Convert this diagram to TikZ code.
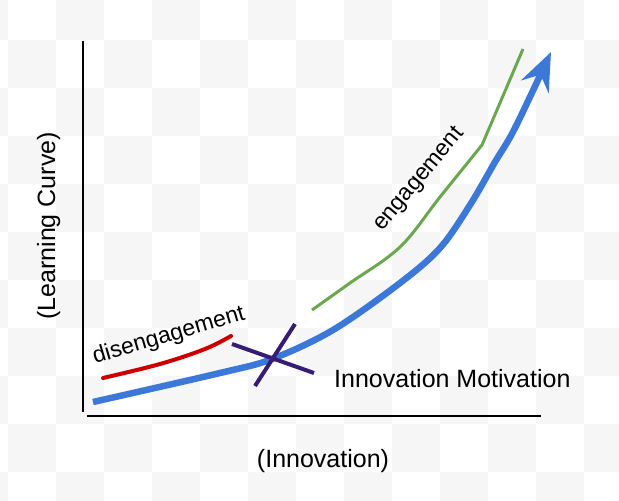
\documentclass[tikz,border=0pt]{standalone}
\usepackage{fontspec}
\setmainfont{Liberation Sans}
\usepackage{xcolor}
\usepackage{tikz}
\usetikzlibrary{arrows.meta}

\definecolor{learnblue}{HTML}{3C78D8}
\definecolor{enggreen}{HTML}{6AA84F}
\definecolor{disred}{HTML}{CC0000}
\definecolor{crosspurple}{HTML}{351C75}
\definecolor{checkgray}{HTML}{F6F6F6}

\begin{document}
\begin{tikzpicture}[
  x=1pt, y=-1pt,
  axis/.style={draw=black, line width=2pt},
  growth/.style={draw=learnblue, line width=6.5pt},
  engline/.style={draw=enggreen, line width=3pt},
  disline/.style={draw=disred, line width=4pt},
  cross/.style={draw=crosspurple, line width=4pt},
  biglabel/.style={font=\fontsize{25}{30}\selectfont, inner sep=0pt},
  slantlabel/.style={font=\fontsize{23}{27}\selectfont, inner sep=0pt}
]
  \useasboundingbox (0,0) rectangle (619,501);

  % Checkerboard background
  \begin{scope}
    \clip (0,0) rectangle (619,501);
    \fill[white] (0,0) rectangle (619,501);
    \foreach \i in {-1,...,12} {
      \foreach \j in {0,...,10} {
        \pgfmathtruncatemacro{\cellodd}{mod(\i+\j+2,2)}
        \ifnum\cellodd=1
          \fill[checkgray] ({7.5+48*\i},{-8.5+48*\j}) rectangle ++(48,48);
        \fi
      }
    }
  \end{scope}

  % Axes
  \draw[axis] (83.3,40.7) -- (83.3,412);
  \draw[axis] (87.3,415.7) -- (541,415.7);

  % Axis labels
  \node[biglabel, anchor=base, rotate=90] (ylabel) at (55,226) {(Learning Curve)};
  \node[biglabel, anchor=base] (xlabel) at (323,467) {(Innovation)};

  % Curves
  \draw[disline, line cap=round] plot[smooth, tension=0.6] coordinates {(103,378) (160,364) (205,349) (231,336)};
  \draw[engline] plot[smooth, tension=0.6] coordinates {(312,310) (350,283) (400,247) (440,197) (482,145)} -- (523,49);
  \draw[growth, -{Stealth[length=38pt, width=30pt, inset=13pt]}]
    plot[smooth, tension=0.55] coordinates {(93,402) (220,373) (272,359) (333,330) (400,283) (440,248) (470,205) (495,162) (515,128) (551,52)};

  % Crossing mark
  \draw[cross] (232,344) -- (314,373);
  \draw[cross] (295,324) -- (255,386);

  % Labels
  \node[slantlabel, anchor=base west, rotate=16.5] (diseng) at (95,364) {disengagement};
  \node[slantlabel, anchor=base west, rotate=50] (eng) at (382,232) {engagement};
  \node[biglabel, anchor=base west] (motivation) at (334,387) {Innovation Motivation};
\end{tikzpicture}
\end{document}
